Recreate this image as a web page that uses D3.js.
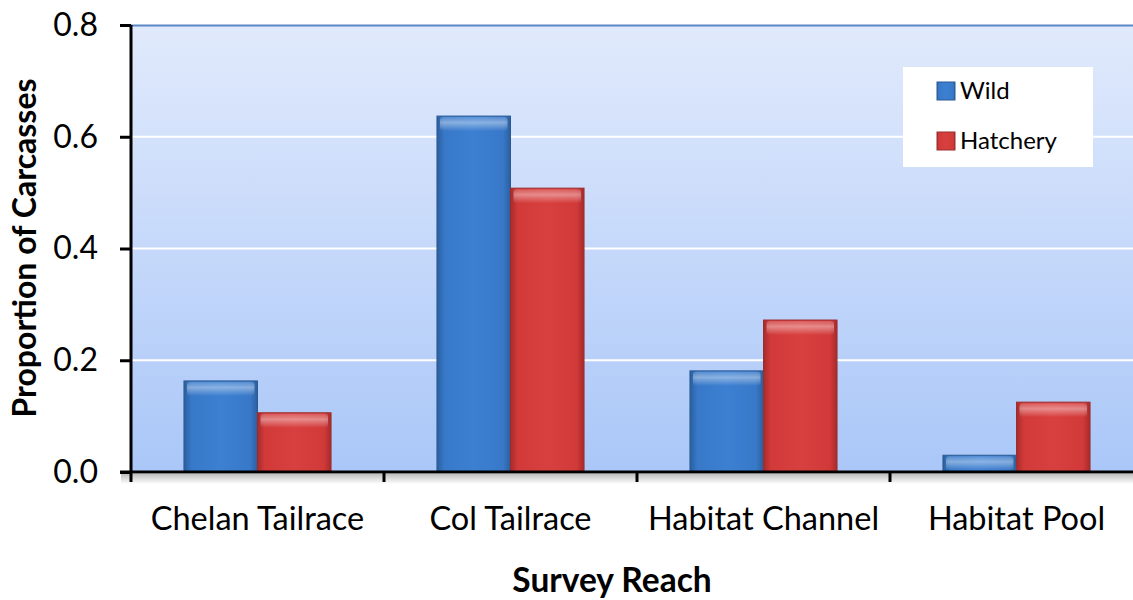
<!DOCTYPE html>
<html>
<head>
<meta charset="utf-8">
<script src="https://cdn.jsdelivr.net/npm/d3@7"></script>
<style>
  html, body { margin: 0; padding: 0; background: #fff; }
  svg { display: block; font-family: Lato, "Open Sans", sans-serif; }
</style>
</head>
<body>
<svg id="chart" width="1133" height="600"></svg>
<script>
const categories = ["Chelan Tailrace", "Col Tailrace", "Habitat Channel", "Habitat Pool"];
const seriesNames = ["Wild", "Hatchery"];
const wildValues = [0.163, 0.637, 0.181, 0.030];
const hatcheryValues = [0.106, 0.508, 0.272, 0.125];
const yTicks = [0.0, 0.2, 0.4, 0.6, 0.8];
const yTitle = "Proportion of Carcasses";
const xTitle = "Survey Reach";

const svg = d3.select("#chart");
const x0 = 131, x1 = 1143, yTop = 25, yBot = 472;

const defs = svg.append("defs");
const bg = defs.append("linearGradient").attr("id", "bg").attr("x1", 0).attr("y1", 0).attr("x2", 0).attr("y2", 1);
bg.append("stop").attr("offset", "0%").attr("stop-color", "#e1eafc");
bg.append("stop").attr("offset", "100%").attr("stop-color", "#aac7f8");

function barGrad(id, edge, mid, light) {
  const g = defs.append("linearGradient").attr("id", id).attr("x1", 0).attr("y1", 0).attr("x2", 1).attr("y2", 0);
  g.append("stop").attr("offset", "0%").attr("stop-color", edge);
  g.append("stop").attr("offset", "10%").attr("stop-color", mid);
  g.append("stop").attr("offset", "50%").attr("stop-color", light);
  g.append("stop").attr("offset", "90%").attr("stop-color", mid);
  g.append("stop").attr("offset", "100%").attr("stop-color", edge);
}
barGrad("gWild", "#2a5f9e", "#3878c8", "#3c80d2");
barGrad("gHatch", "#a82a2a", "#d23a3a", "#d8403f");
const hl = defs.append("linearGradient").attr("id", "hl").attr("x1", 0).attr("y1", 0).attr("x2", 0).attr("y2", 1);
hl.append("stop").attr("offset", "0%").attr("stop-color", "#fff").attr("stop-opacity", 0.15);
hl.append("stop").attr("offset", "40%").attr("stop-color", "#fff").attr("stop-opacity", 0.4);
hl.append("stop").attr("offset", "100%").attr("stop-color", "#fff").attr("stop-opacity", 0);
const sh = defs.append("linearGradient").attr("id", "sh").attr("x1", 0).attr("y1", 0).attr("x2", 0).attr("y2", 1);
sh.append("stop").attr("offset", "0%").attr("stop-color", "#000").attr("stop-opacity", 0.25);
sh.append("stop").attr("offset", "100%").attr("stop-color", "#000").attr("stop-opacity", 0);

const x = d3.scaleBand().domain(categories).range([x0, x1]).paddingInner(0).paddingOuter(0);
const xs = d3.scaleBand().domain(seriesNames).range([0, x.bandwidth()]).paddingOuter(0.72).paddingInner(0);
const y = d3.scaleLinear().domain([0, 0.8]).range([yBot, yTop]);

// plot background
svg.append("rect").attr("x", x0).attr("y", yTop).attr("width", x1 - x0).attr("height", yBot - yTop).attr("fill", "url(#bg)");
svg.append("line").attr("x1", x0).attr("x2", x1).attr("y1", yTop + 0.5).attr("y2", yTop + 0.5).attr("stroke", "#5b87c4").attr("stroke-width", 2);

// gridlines
svg.append("g").selectAll("line").data(yTicks.filter(d => d > 0 && d < 0.8)).join("line")
  .attr("x1", x0).attr("x2", x1).attr("y1", d => y(d)).attr("y2", d => y(d))
  .attr("stroke", "#fff").attr("stroke-width", 2);

// shadow under x axis
svg.append("rect").attr("x", x0 - 10).attr("y", yBot + 2).attr("width", x1 - x0 + 10).attr("height", 10).attr("fill", "url(#sh)");

// bars
const data = categories.map((c, i) => ({ cat: c, vals: [
  { s: "Wild", v: wildValues[i], fill: "url(#gWild)", stroke: "#2b5a92" },
  { s: "Hatchery", v: hatcheryValues[i], fill: "url(#gHatch)", stroke: "#9a2e2e" }
]}));
const groups = svg.append("g").selectAll("g").data(data).join("g")
  .attr("transform", d => `translate(${x(d.cat)},0)`);
groups.selectAll("rect.bar").data(d => d.vals).join("rect").attr("class", "bar")
  .attr("x", d => xs(d.s)).attr("width", xs.bandwidth())
  .attr("y", d => y(d.v)).attr("height", d => y(0) - y(d.v))
  .attr("fill", d => d.fill).attr("stroke", d => d.stroke).attr("stroke-width", 1);
groups.selectAll("rect.hl").data(d => d.vals).join("rect").attr("class", "hl")
  .attr("x", d => xs(d.s) + 3).attr("width", xs.bandwidth() - 6)
  .attr("y", d => y(d.v) + 1).attr("height", d => Math.min(14, y(0) - y(d.v) - 2))
  .attr("rx", 3).attr("fill", "url(#hl)");

// y axis
const yAxis = svg.append("g").attr("transform", `translate(${x0},0)`)
  .call(d3.axisLeft(y).tickValues(yTicks).tickFormat(d3.format(".1f")).tickSize(11).tickPadding(22));
yAxis.select(".domain").attr("stroke", "#000").attr("stroke-width", 3).attr("d", `M0,${yTop}V${yBot}`);
yAxis.selectAll(".tick line").attr("stroke", "#000").attr("stroke-width", 3);
yAxis.selectAll(".tick text").attr("font-size", 32).attr("fill", "#000").attr("font-family", "Lato, sans-serif");

// x axis
const xAxis = svg.append("g").attr("transform", `translate(0,${yBot})`)
  .call(d3.axisBottom(x).tickSize(0));
xAxis.select(".domain").remove();
xAxis.append("line").attr("x1", x0 - 11).attr("x2", x1).attr("y1", 0).attr("y2", 0).attr("stroke", "#000").attr("stroke-width", 3);
xAxis.selectAll(".tick text").attr("font-size", 32.5).attr("fill", "#000").attr("font-family", "Lato, sans-serif")
  .attr("y", 58).attr("dy", 0);
const boundaries = categories.map(c => x(c)).concat([x(categories[categories.length - 1]) + x.bandwidth()]);
xAxis.selectAll("line.bt").data(boundaries).join("line").attr("class", "bt")
  .attr("x1", d => d).attr("x2", d => d).attr("y1", 0).attr("y2", 10)
  .attr("stroke", "#000").attr("stroke-width", 3);

// titles
svg.append("text").attr("x", 612).attr("y", 592).attr("text-anchor", "middle")
  .attr("font-size", 33.5).attr("font-weight", "bold").text(xTitle);
svg.append("text").attr("transform", "translate(36,248) rotate(-90)").attr("text-anchor", "middle")
  .attr("font-size", 32).attr("font-weight", "bold").text(yTitle);

// legend
const lg = svg.append("g").attr("transform", "translate(903,67)");
lg.append("rect").attr("width", 190).attr("height", 100).attr("fill", "#fff");
const items = [{ n: seriesNames[0], fill: "url(#gWild)", stroke: "#2b5a92" }, { n: seriesNames[1], fill: "url(#gHatch)", stroke: "#9a2e2e" }];
const li = lg.selectAll("g").data(items).join("g").attr("transform", (d, i) => `translate(34,${15 + i * 50})`);
li.append("rect").attr("width", 18).attr("height", 18).attr("fill", d => d.fill).attr("stroke", d => d.stroke);
li.append("text").attr("x", 23).attr("y", 17).attr("font-size", 24).text(d => d.n);
</script>
</body>
</html>
